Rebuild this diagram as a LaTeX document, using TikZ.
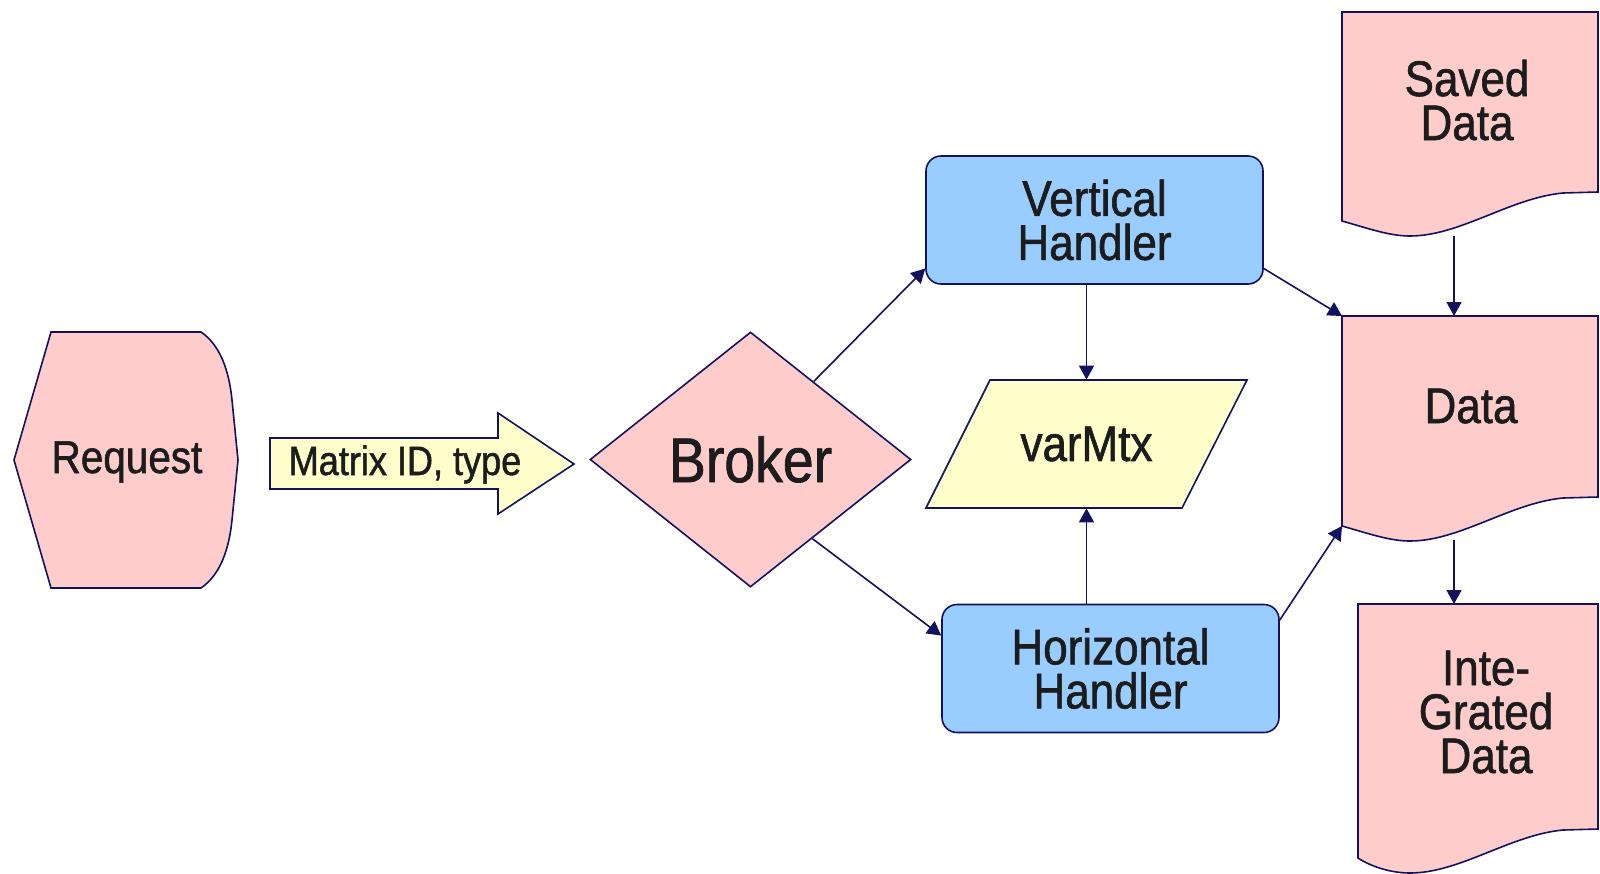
\documentclass[tikz,border=0pt]{standalone}
\usepackage{fontspec}
\setmainfont[FakeStretch=0.88,FakeBold=1.2]{Liberation Sans}
\usetikzlibrary{arrows.meta,shapes.geometric}
\definecolor{navy}{HTML}{12125E}
\definecolor{pinkfill}{HTML}{FFCCCC}
\definecolor{bluefill}{HTML}{99CCFF}
\definecolor{yellowfill}{HTML}{FFFFCC}
\definecolor{ink}{HTML}{1C1C1C}
\begin{document}
\begin{tikzpicture}[x=0.5pt,y=-0.5pt,
  outline/.style={draw=navy,line width=0.8pt},
  conn/.style={draw=navy,line width=0.8pt,-{Triangle[length=7pt,width=7.5pt]}},
  lbl/.style={text=ink,font=\fontsize{25}{22}\selectfont,align=center,inner sep=0pt},
  handler/.style={outline,fill=bluefill,rounded corners=7.5pt,minimum width=168.5pt,minimum height=64pt,lbl}]
\useasboundingbox (0,0) rectangle (1600,873);
\clip (0,0) rectangle (1600,873);

\draw[outline,fill=pinkfill] (14,460) -- (51,332) -- (201,332) .. controls (220,345) and (229,370) .. (232,400) -- (238,460) -- (232,520) .. controls (229,550) and (220,575) .. (201,588) -- (51,588) -- cycle;
\node[lbl,font=\fontsize{23}{22}\selectfont,anchor=base] (req) at (127,473) {Request};

\draw[outline,fill=yellowfill] (270,438) -- (498,438) -- (498,413) -- (574,464) -- (498,514) -- (498,489) -- (270,489) -- cycle;
\node[lbl,font=\fontsize{20.5}{22}\selectfont,anchor=base] (mid) at (405,475) {Matrix ID, type};

\node[outline,fill=pinkfill,diamond,minimum width=160.5pt,minimum height=127.5pt,lbl,font=\fontsize{31.5}{30}\selectfont] (broker) at (750.5,459.5) {Broker};

\node[handler] (vh) at (1094.5,220) {Vertical\\Handler};
\node[handler] (hh) at (1110.5,668.5) {Horizontal\\Handler};
\draw[outline,fill=yellowfill] (926,508) -- (1182,508) -- (1247,380) -- (990,380) -- cycle;
\node[lbl,minimum width=128pt,minimum height=64pt] (mtx) at (1086.5,444) {varMtx};

\foreach \l/\t/\b in {1342/12/221, 1342/316/526, 1358/604/858}
{
	\draw[outline,fill=pinkfill] (\l,\t) -- (1598,\t) -- (1598,{\b-29}) -- (1563,{\b-28}) .. controls (1510,{\b-23}) and (1460,{\b+15}) .. (1410,{\b+15}) .. controls (1390,{\b+15}) and (1370,{\b+8}) .. (\l,\b) -- cycle;
}
\node[lbl,anchor=base] (saved) at (1467,140) {Saved\\Data};
\node[lbl,anchor=base] (data) at (1471,423) {Data};
\node[lbl,anchor=base] (integ) at (1486,773) {Inte-\\Grated\\Data};

\coordinate (saved-out) at (1454,236);
\coordinate (data-in) at (1454,316);
\coordinate (data-nw) at (1342,316);
\coordinate (data-sw) at (1342,526);
\coordinate (data-out) at (1454,540);
\coordinate (integ-in) at (1454,604);

\draw[conn] (broker.51) -- (vh.196);
\draw[conn] (broker.-52) -- (hh.169);
\draw[conn] (vh.-16) -- (data-nw);
\draw[conn] (hh.16) -- (data-sw);
\draw[conn] (vh.south -| mtx.north) -- (mtx.north);
\draw[conn] (hh.north -| mtx.south) -- (mtx.south);
\draw[conn] (saved-out) -- (data-in);
\draw[conn] (data-out) -- (integ-in);
\end{tikzpicture}
\end{document}
